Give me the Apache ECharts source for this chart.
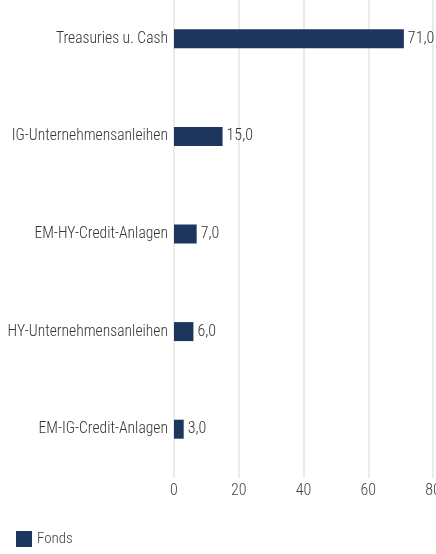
<!DOCTYPE html>
<html>
<head>
<meta charset="utf-8">
<script src="https://cdn.jsdelivr.net/npm/echarts@6/dist/echarts.min.js"></script>
<style>
  html, body { margin: 0; padding: 0; background: #fff; }
  #main { width: 436px; height: 554px; }
</style>
</head>
<body>
<div id="main"></div>
<script>
// data, top to bottom as shown
var categories = ['Treasuries u. Cash', 'IG-Unternehmensanleihen', 'EM-HY-Credit-Anlagen', 'HY-Unternehmensanleihen', 'EM-IG-Credit-Anlagen'];
var fonds = [71.0, 15.0, 7.0, 6.0, 3.0];
var xTicks = [0, 20, 40, 60, 80];

var font = '"Roboto Condensed", "Liberation Sans Narrow", "DejaVu Sans Condensed", sans-serif';

var chart = echarts.init(document.getElementById('main'));
chart.setOption({
  animation: false,
  textStyle: { fontFamily: font },
  legend: {
    left: 11,
    bottom: 2,
    itemWidth: 16,
    itemHeight: 16,
    itemGap: 10,
    icon: 'rect',
    textStyle: { fontFamily: font, fontSize: 15, fontWeight: 300, color: '#444' },
    data: ['Fonds']
  },
  grid: { left: 174, right: 3, top: -10, bottom: 76, containLabel: false, outerBoundsMode: 'none' },
  xAxis: {
    type: 'value',
    min: xTicks[0],
    max: xTicks[xTicks.length - 1],
    interval: 20,
    axisLine: { show: false },
    axisTick: { show: false },
    splitLine: { lineStyle: { color: '#ebebeb', width: 2 } },
    axisLabel: { fontFamily: font, fontSize: 16, fontWeight: 300, color: '#444', margin: 5 }
  },
  yAxis: {
    type: 'category',
    inverse: true,
    data: categories,
    axisLine: { show: false },
    axisTick: { show: false },
    axisLabel: { fontFamily: font, fontSize: 15.6, fontWeight: 300, color: '#333', margin: 6 }
  },
  series: [{
    name: 'Fonds',
    type: 'bar',
    data: fonds,
    barWidth: 19,
    itemStyle: { color: '#1c365e' },
    label: {
      show: true,
      position: 'right',
      distance: 4,
      fontFamily: font,
      fontSize: 16,
      fontWeight: 300,
      color: '#333',
      formatter: function (p) { return p.value.toFixed(1).replace('.', ','); }
    }
  }]
});
</script>
</body>
</html>
